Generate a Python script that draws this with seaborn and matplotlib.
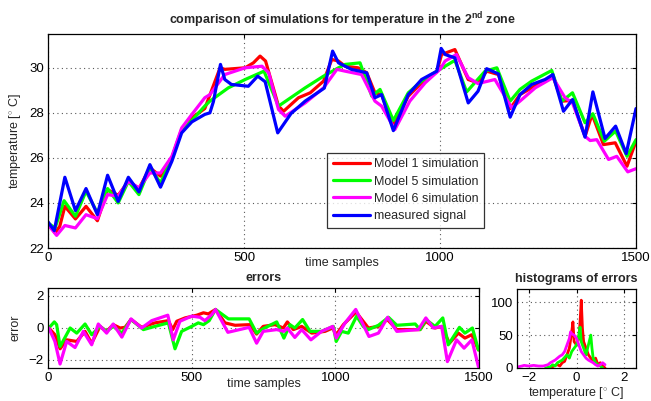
import numpy as np
import pandas as pd
import matplotlib
matplotlib.use("Agg")
import matplotlib.pyplot as plt
import seaborn as sns

# ---------------- data ----------------
meas_x = [0, 16, 43, 70, 97, 126, 152, 179, 205, 232, 260, 287, 316, 341, 367, 400, 413, 422, 440, 451,
          468, 511, 535, 554, 586, 620, 656, 705, 726, 741, 758, 774, 813, 834, 851, 881, 919, 953, 992,
          1003, 1013, 1038, 1072, 1097, 1119, 1149, 1179, 1204, 1234, 1268, 1288, 1315, 1338, 1370, 1390,
          1421, 1448, 1475, 1500]
meas_y = [23.16, 22.77, 25.14, 23.66, 24.64, 23.48, 25.23, 24.07, 25.14, 24.49, 25.7, 24.7, 25.85, 27.11,
          27.6, 27.93, 28.0, 28.5, 30.15, 29.48, 29.26, 29.18, 29.63, 29.38, 27.11, 27.97, 28.52, 29.1,
          30.74, 30.22, 30.07, 29.93, 29.78, 28.67, 28.81, 27.21, 28.81, 29.48, 29.85, 30.86, 30.59, 30.44,
          28.44, 28.96, 29.96, 29.73, 27.81, 28.81, 29.26, 29.48, 29.7, 28.07, 28.59, 26.92, 28.93, 26.86,
          27.41, 26.19, 28.19]

m1_x = [0, 18, 30, 43, 70, 97, 126, 152, 179, 205, 232, 260, 287, 316, 341, 367, 400, 439, 451, 503, 524,
        541, 555, 588, 601, 639, 669, 703, 724, 741, 758, 791, 813, 834, 851, 881, 919, 953, 992, 1004,
        1038, 1072, 1097, 1119, 1149, 1179, 1204, 1234, 1288, 1311, 1338, 1370, 1388, 1417, 1447, 1477, 1500]
m1_y = [23.11, 22.67, 22.96, 23.85, 23.29, 23.85, 23.21, 24.59, 24.34, 24.96, 24.64, 25.56, 25.19, 26.0,
        27.26, 27.78, 28.19, 30.0, 29.93, 30.0, 30.22, 30.52, 30.3, 28.3, 28.07, 28.67, 28.89, 29.41,
        30.37, 30.3, 30.07, 30.0, 29.78, 28.89, 28.81, 27.41, 28.74, 29.33, 29.82, 30.59, 30.81, 29.48,
        29.33, 29.85, 29.7, 28.19, 28.81, 29.11, 29.63, 28.52, 28.55, 26.96, 27.93, 26.59, 26.67, 25.63, 26.74]

m5_x = [0, 18, 41, 70, 97, 126, 152, 179, 205, 232, 260, 287, 316, 341, 367, 400, 413, 460, 503, 551, 588,
        656, 703, 741, 758, 796, 826, 847, 881, 919, 953, 992, 1038, 1068, 1115, 1145, 1179, 1204, 1234,
        1285, 1311, 1338, 1370, 1390, 1419, 1448, 1477, 1500]
m5_y = [23.11, 22.89, 24.1, 23.41, 24.52, 23.56, 24.64, 24.0, 24.96, 24.37, 25.56, 24.89, 26.0, 27.26,
        27.66, 28.3, 28.52, 29.11, 29.48, 29.85, 28.3, 29.11, 29.63, 30.0, 30.15, 30.22, 28.74, 29.04,
        27.66, 28.89, 29.41, 29.85, 30.33, 28.93, 29.85, 30.0, 28.52, 29.04, 29.41, 29.88, 28.52, 28.89,
        27.56, 27.96, 26.74, 27.19, 26.07, 26.81]

m6_x = [0, 22, 43, 70, 97, 126, 152, 179, 205, 232, 260, 287, 316, 341, 367, 400, 413, 451, 503, 546, 563,
        588, 605, 656, 703, 737, 758, 800, 834, 851, 885, 923, 962, 1000, 1013, 1042, 1072, 1097, 1140,
        1183, 1204, 1243, 1288, 1319, 1338, 1370, 1383, 1400, 1430, 1451, 1479, 1500]
m6_y = [23.04, 22.56, 23.0, 22.89, 23.48, 23.3, 24.37, 24.3, 24.96, 24.67, 25.33, 25.33, 26.07, 27.33,
        27.93, 28.67, 28.81, 29.7, 30.0, 30.07, 29.78, 28.15, 27.85, 28.44, 29.11, 29.93, 29.85, 29.7,
        28.52, 28.3, 27.26, 28.52, 29.33, 29.93, 30.3, 30.59, 29.56, 29.3, 29.48, 28.22, 28.52, 29.11,
        29.56, 28.67, 28.44, 26.96, 26.77, 26.81, 25.93, 26.07, 25.38, 25.52]

e1_x = [3, 24, 42, 65, 100, 129, 152, 181, 204, 227, 251, 268, 289, 326, 372, 419, 434, 448, 477, 518, 541,
        558, 583, 616, 651, 703, 726, 749, 790, 819, 833, 854, 883, 918, 964, 991, 1003, 1028, 1072, 1115,
        1150, 1181, 1214, 1295, 1315, 1347, 1370, 1397, 1428, 1451, 1475, 1498]
e1_y = [0, -0.42, -1.3, -0.74, -0.84, -0.21, -0.95, 0.1, -0.21, 0.21, 0, 0.04, 0.53, 0.04, 0.32, 0.46,
        -0.1, 0.42, 0.63, 0.8, 0.95, 0.88, 1.16, 0.32, 0.17, 0.21, -0.38, 0.1, 0.21, 0, 0.38, -0.1, 0.1,
        -0.32, -0.21, 0, -0.42, 0.21, 1.0, 0, 0.1, 0.53, -0.1, -0.1, 0.42, 0, 0.1, -0.95, -0.32, -0.63,
        -0.42, -1.37]

e5_x = [3, 22, 30, 42, 77, 100, 129, 152, 181, 204, 227, 257, 289, 332, 372, 419, 442, 465, 500, 523, 541,
        561, 583, 628, 700, 726, 749, 796, 821, 842, 859, 886, 912, 952, 993, 1003, 1022, 1045, 1074, 1097,
        1115, 1150, 1185, 1214, 1278, 1295, 1315, 1347, 1374, 1393, 1432, 1451, 1477, 1498]
e5_y = [0, 0.38, 0.21, -1.16, 0, -0.32, 0.25, -0.42, 0.1, -0.21, 0.1, -0.32, 0.53, -0.1, 0.1, 0.32, -1.3,
        -0.21, 0.1, 0.32, 0.21, 0.46, 1.16, 0.57, 0.57, -0.32, -0.04, 0.38, -0.63, 0.21, 0, 0.53, -0.21,
        -0.21, 0.1, -0.84, -0.21, -0.32, 0.74, 0.1, -0.1, 0.17, 0.67, 0.17, 0.25, -0.1, 0.53, 0.1, 0.63,
        -1.05, 0.04, -0.32, 0, -1.37]

e6_x = [3, 24, 42, 65, 94, 123, 152, 175, 204, 227, 257, 289, 326, 361, 417, 436, 459, 500, 529, 546, 570,
        583, 626, 700, 726, 749, 796, 821, 833, 859, 883, 915, 952, 991, 1003, 1034, 1071, 1117, 1150, 1182,
        1214, 1289, 1315, 1341, 1370, 1390, 1422, 1448, 1475, 1498]
e6_y = [0, -0.84, -2.25, -0.84, -1.22, -0.21, -1.05, 0.25, -0.32, 0.25, -0.57, 0.57, 0, 0.46, 0.8, -0.74,
        0.42, 0.74, 0.67, 0.46, 0.84, 1.16, -0.27, 0.04, -0.95, -0.21, -0.1, -0.21, 0, -0.59, -0.1, -0.74,
        -0.21, 0.1, -0.63, 0.32, 1.16, -0.53, -0.32, 0.67, -0.21, -0.1, 0.63, 0, 0.1, -2.1, -0.74, -1.26,
        -0.74, -2.42]

h1_x = [-1.2, -1.0, -0.9, -0.8, -0.7, -0.6, -0.5, -0.4, -0.3, -0.2, -0.15, -0.1, 0.0, 0.1, 0.15, 0.2,
        0.25, 0.3, 0.4, 0.5, 0.6, 0.7, 0.8, 0.9, 1.0, 1.1, 1.2]
h1_y = [0, 2, 4, 5, 3, 8, 10, 20, 30, 55, 70, 40, 35, 45, 70, 103, 60, 40, 30, 20, 15, 10, 15, 5, 8, 3, 0]

h5_x = [-1.3, -1.1, -1.0, -0.9, -0.8, -0.6, -0.4, -0.3, -0.2, -0.1, 0.0, 0.1, 0.15, 0.2, 0.3, 0.4, 0.5,
        0.6, 0.65, 0.7, 0.8, 0.9, 1.0, 1.1]
h5_y = [0, 2, 5, 3, 8, 12, 20, 15, 25, 30, 35, 50, 62, 40, 30, 20, 35, 50, 30, 15, 8, 5, 3, 0]

h6_x = [-2.43, -2.3, -2.2, -2.0, -1.8, -1.6, -1.4, -1.2, -1.1, -1.0, -0.9, -0.8, -0.7, -0.6, -0.5, -0.4,
        -0.3, -0.25, -0.2, -0.1, 0.0, 0.1, 0.2, 0.3, 0.4, 0.5, 0.6, 0.7, 0.8, 0.9, 1.0, 1.1, 1.2]
h6_y = [2, 3, 4, 3, 4, 3, 3, 5, 8, 10, 12, 15, 18, 20, 25, 35, 45, 55, 52, 50, 45, 35, 25, 20, 15, 12,
        10, 8, 5, 3, 5, 8, 5]

labels = ["Model 1 simulation", "Model 5 simulation", "Model 6 simulation", "measured signal"]
colors = ["#ff0000", "#00ff00", "#ff00ff", "#0000ff"]

# ---------------- style ----------------
sns.set_style("white")
plt.rcParams["font.family"] = ["Liberation Sans", "DejaVu Sans"]
plt.rcParams["mathtext.fontset"] = "custom"
plt.rcParams["mathtext.rm"] = "Liberation Sans"
plt.rcParams["mathtext.bf"] = "Liberation Sans:bold"
plt.rcParams["font.size"] = 9
plt.rcParams["lines.solid_joinstyle"] = "round"
plt.rcParams["lines.solid_capstyle"] = "round"

fig = plt.figure(figsize=(6.51, 4.01), dpi=100)
fig.patch.set_facecolor("white")

ax_main = fig.add_axes([48 / 651, 1 - 248 / 401, 588 / 651, 214 / 401])
ax_err = fig.add_axes([48 / 651, 1 - 368 / 401, 431 / 651, 80 / 401])
ax_hist = fig.add_axes([517 / 651, 1 - 368 / 401, 119 / 651, 79 / 401])

LW = 2.3
TICK_FS = 9.5


def style_axes(ax):
    for s in ax.spines.values():
        s.set_visible(True)
        s.set_color("black")
        s.set_linewidth(0.9)
    ax.tick_params(direction="in", length=3, width=0.8, top=True, right=True,
                   labelsize=TICK_FS, colors="black", pad=3)
    ax.grid(True, color="0.35", linestyle=(0, (1, 3)), linewidth=0.8)
    ax.set_axisbelow(True)


# main plot
series = [(m1_x, m1_y), (m5_x, m5_y), (m6_x, m6_y), (meas_x, meas_y)]
for (xs, ys), lab, col in zip(series, labels, colors):
    sns.lineplot(x=xs, y=ys, ax=ax_main, color=col, linewidth=LW, label=lab,
                 sort=False, estimator=None)
ax_main.set_xlim(0, 1500)
ax_main.set_ylim(22, 31.5)
ax_main.set_xticks([0, 500, 1000, 1500])
ax_main.set_yticks([22, 24, 26, 28, 30])
style_axes(ax_main)
ax_main.set_title(r"comparison of simulations for temperature in the 2$^{\mathbf{nd}}$ zone",
                  fontsize=9, fontweight="bold", pad=7)
ax_main.set_xlabel("time samples", fontsize=9)
ax_main.xaxis.set_label_coords(0.5, -0.04)
ax_main.set_ylabel(r"temperature [$^{\circ}$ C]", fontsize=9)
ax_main.yaxis.set_label_coords(-0.042, 0.5)
leg = ax_main.legend(loc="lower left", bbox_to_anchor=(0.4745, 0.095), frameon=True,
                     fancybox=False, edgecolor="black", fontsize=9, handlelength=2.95,
                     borderpad=0.45, labelspacing=0.42, handletextpad=0.35, borderaxespad=0)
leg.get_frame().set_linewidth(0.9)

# errors plot
for xs, ys, col in [(e1_x, e1_y, colors[0]), (e5_x, e5_y, colors[1]), (e6_x, e6_y, colors[2])]:
    sns.lineplot(x=xs, y=ys, ax=ax_err, color=col, linewidth=LW, sort=False, estimator=None)
ax_err.set_xlim(0, 1500)
ax_err.set_ylim(-2.5, 2.5)
ax_err.set_xticks([0, 500, 1000, 1500])
ax_err.set_yticks([-2, 0, 2])
style_axes(ax_err)
ax_err.set_title("errors", fontsize=9, fontweight="bold", pad=5)
ax_err.set_xlabel("time samples", fontsize=9)
ax_err.xaxis.set_label_coords(0.5, -0.13)
ax_err.set_ylabel("error", fontsize=9)
ax_err.yaxis.set_label_coords(-0.062, 0.5)

# histogram plot
for xs, ys, col in [(h1_x, h1_y, colors[0]), (h5_x, h5_y, colors[1]), (h6_x, h6_y, colors[2])]:
    sns.lineplot(x=xs, y=ys, ax=ax_hist, color=col, linewidth=2.0, sort=False, estimator=None)
ax_hist.set_xlim(-2.5, 2.5)
ax_hist.set_ylim(0, 120)
ax_hist.set_xticks([-2, 0, 2])
ax_hist.set_yticks([0, 50, 100])
style_axes(ax_hist)
ax_hist.set_title("histograms of errors", fontsize=9, fontweight="bold", pad=5)
ax_hist.set_xlabel(r"temperature [$^{\circ}$ C]", fontsize=9)
ax_hist.xaxis.set_label_coords(0.5, -0.22)

fig.savefig("out.png", dpi=100, facecolor="white")
